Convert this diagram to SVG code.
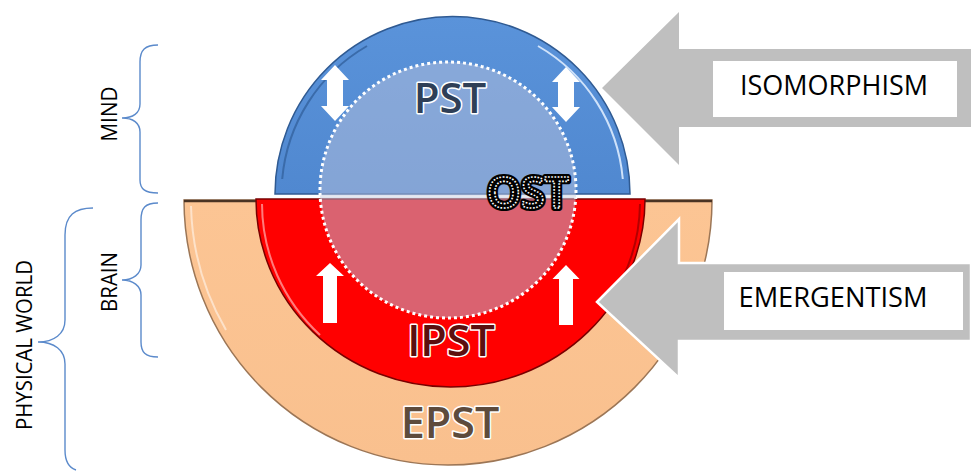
<svg xmlns="http://www.w3.org/2000/svg" width="971" height="473" viewBox="0 0 971 473">
<defs>
<style>
.lbl{font-family:"Open Sans","Liberation Sans",sans-serif;font-weight:600;text-anchor:middle;paint-order:stroke fill;stroke-linejoin:round}
.side{font-family:"Open Sans","Liberation Sans",sans-serif;font-size:21px;fill:#000;text-anchor:middle}
.brace{fill:none;stroke:#5B8ACB;stroke-width:1.4}
.big{fill:#BFBFBF}
.box{fill:#fff}
.boxt{font-family:"Open Sans","Liberation Sans",sans-serif;font-size:27px;fill:#000;text-anchor:middle}
.wa{fill:#fff}
</style>
<linearGradient id="gBlue" x1="0" y1="0" x2="0" y2="1">
<stop offset="0" stop-color="#5A93DA"/>
<stop offset="1" stop-color="#5088D0"/>
</linearGradient>
<linearGradient id="gPeach" x1="0" y1="0" x2="0" y2="1">
<stop offset="0" stop-color="#FCC594"/>
<stop offset="1" stop-color="#F9C08E"/>
</linearGradient>
</defs>
<rect width="971" height="473" fill="#fff"/>

<g id="epst">
<path d="M184,200 L712,200 A264,265 0 0 1 184,200 Z" fill="url(#gPeach)" stroke="#9C7656" stroke-width="1.5"/>
<path d="M191,206 A257,258 0 0 0 226,330" fill="none" stroke="#fff" stroke-opacity="0.5" stroke-width="2"/>
<line x1="184" y1="201" x2="712" y2="201" stroke="#4A3424" stroke-width="2.5"/>
<text class="lbl" x="450" y="438" font-size="43" fill="#5E4B3C" stroke="#fff" stroke-width="3">EPST</text>
</g>

<g id="ipst">
<path d="M256,199 L645,199 A194.5,188 0 0 1 256,199 Z" fill="#FF0000" stroke="#7A0000" stroke-width="1.5"/>
<path d="M262,204 A188,182 0 0 0 320,335" fill="none" stroke="#FF9A9A" stroke-opacity="0.8" stroke-width="2"/>
<path d="M640,204 A188,182 0 0 1 610,300" fill="none" stroke="#A00000" stroke-opacity="0.8" stroke-width="2"/>
</g>

<g id="pst">
<path d="M275,194 A177.5,177.5 0 0 1 630,194 Z" fill="url(#gBlue)" stroke="#2F5A92" stroke-width="1.5"/>
<path d="M282.2,179 A171,171 0 0 1 367,46" fill="none" stroke="#3A6BAA" stroke-width="2"/>
<path d="M538,46 A171,171 0 0 1 622.8,179" fill="none" stroke="#CFE2FA" stroke-width="2"/>
</g>

<g id="ost">
<circle cx="448" cy="190" r="128" fill="#B7C1DC" fill-opacity="0.51" stroke="#fff" stroke-width="3" stroke-dasharray="3 3"/>
<line x1="320" y1="196.5" x2="576" y2="196.5" stroke="#E6E9F0" stroke-width="2"/>
</g>

<g id="connectors">
<polygon class="wa" points="335,65 349,80 343,80 343,106 349,106 335,121 321,106 327,106 327,80 321,80"/>
<polygon class="wa" points="566,67 580,82 574,82 574,107 580,107 566,122 552,107 558,107 558,82 552,82"/>
<polygon class="wa" points="330,263 344,276 337,276 337,323 323,323 323,276 316,276"/>
<polygon class="wa" points="566,265 579.5,279 573,279 573,325 559,325 559,279 552.5,279"/>
</g>

<g id="texts">
<text class="lbl" x="450" y="113" font-size="42" fill="#2F3F57" stroke="#fff" stroke-width="3">PST</text>
<text class="lbl" x="451" y="356" font-size="43" fill="#5C0F0F" stroke="#fff" stroke-width="3">IPST</text>
<text class="lbl" x="528" y="208" font-size="43" fill="#000" stroke="#000" stroke-width="6">OST</text>
<text class="lbl" x="528" y="208" font-size="43" fill="#000" stroke="#fff" stroke-width="1.6" stroke-dasharray="1.6 1.6" style="paint-order:fill stroke">OST</text>
</g>

<g id="isomorphism">
<polygon class="big" points="602,88 679,12 679,49 971,49 971,127 679,127 679,165"/>
<rect class="box" x="713" y="61" width="244" height="56"/>
<text class="boxt" x="834" y="95" textLength="188" lengthAdjust="spacingAndGlyphs">ISOMORPHISM</text>
</g>

<g id="emergentism">
<polygon class="big" points="597,302 679,219 679,263 971,263 971,341 679,341 679,378" stroke="#fff" stroke-width="2.5" stroke-linejoin="miter"/>
<rect class="box" x="724" y="272" width="239" height="58"/>
<text class="boxt" x="833" y="307" textLength="189" lengthAdjust="spacingAndGlyphs">EMERGENTISM</text>
</g>

<g id="mind">
<path class="brace" d="M158,45 C145,45 140,50 140,62 L140,104 C140,113 133,118 122,118 C133,118 140,123 140,132 L140,180 C140,189 145,193 158,193"/>
<text class="side" transform="translate(117,114) rotate(-90)" textLength="55" lengthAdjust="spacingAndGlyphs">MIND</text>
</g>

<g id="brain">
<path class="brace" d="M158,203 C145,203 141,208 141,220 L141,265 C141,274 133,280 122,280 C133,280 141,286 141,295 L141,342 C141,352 145,357 158,357"/>
<text class="side" transform="translate(117,282) rotate(-90)" textLength="60" lengthAdjust="spacingAndGlyphs">BRAIN</text>
</g>

<g id="physical-world">
<path class="brace" d="M93,208 C75,208 65,215 65,235 L65,320 C65,334 54,342 38,342 C54,342 65,350 65,364 L65,450 C65,462 70,468 76,470"/>
<text class="side" transform="translate(32,345) rotate(-90)" textLength="170" lengthAdjust="spacingAndGlyphs">PHYSICAL WORLD</text>
</g>
</svg>
